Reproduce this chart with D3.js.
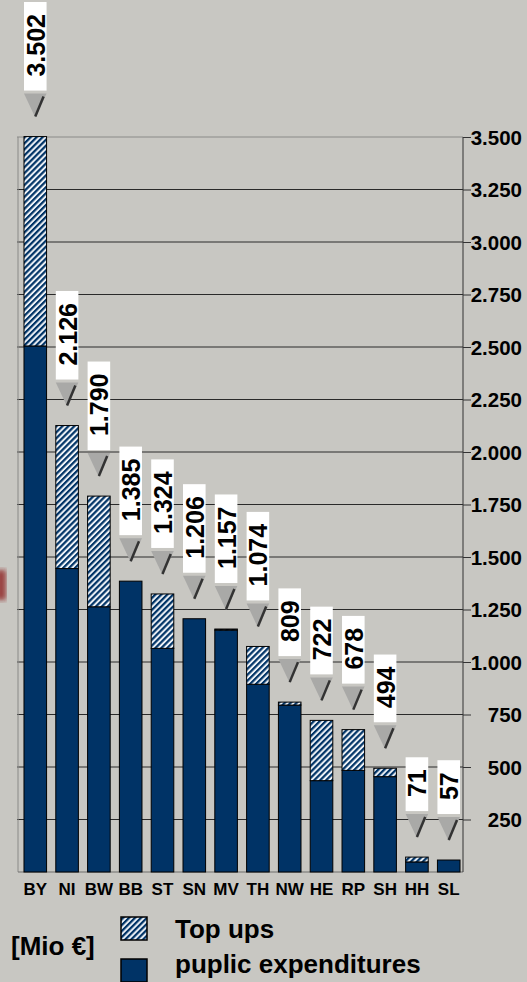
<!DOCTYPE html>
<html>
<head>
<meta charset="utf-8">
<script src="https://cdn.jsdelivr.net/npm/d3@7"></script>
<style>
  html, body { margin: 0; padding: 0; background: #c8c7c2; }
  svg { display: block; font-family: "Liberation Sans", Arial, sans-serif; font-weight: bold; }
</style>
</head>
<body>
<svg id="chart"></svg>
<script>
(function () {
  var width = 527; var height = 982

  var states = ['BY', 'NI', 'BW', 'BB', 'ST', 'SN', 'MV', 'TH', 'NW', 'HE', 'RP', 'SH', 'HH', 'SL']
  var totals = [3502, 2126, 1790, 1385, 1324, 1206, 1157, 1074, 809, 722, 678, 494, 71, 57]
  var publicExp = [2505, 1445, 1263, 1385, 1065, 1206, 1152, 894, 795, 435, 484, 454, 48, 57]
  var yTicks = [250, 500, 750, 1000, 1250, 1500, 1750, 2000, 2250, 2500, 2750, 3000, 3250, 3500]
  var legendLabels = ['Top ups', 'puplic expenditures']
  var unitLabel = '[Mio €]'

  var navy = '#003366'

  var de = d3.formatLocale({ decimal: ',', thousands: '.', grouping: [3], currency: ['', ' €'] })
  var fmt = de.format(',')

  var svg = d3.select('#chart')
    .attr('width', width)
    .attr('height', height)

  var defs = svg.append('defs')
  var pat = defs.append('pattern')
    .attr('id', 'hatch')
    .attr('patternUnits', 'userSpaceOnUse')
    .attr('width', 4.2)
    .attr('height', 4.2)
    .attr('patternTransform', 'rotate(45)')
  pat.append('rect').attr('width', 4.2).attr('height', 4.2).attr('fill', '#eef2f7')
  pat.append('rect').attr('width', 2.2).attr('height', 4.2).attr('fill', navy)

  defs.append('filter').attr('id', 'blur')
    .append('feGaussianBlur').attr('stdDeviation', 2.5)

  // faint background smudge on the left edge
  svg.append('rect')
    .attr('x', -4).attr('y', 570).attr('width', 10).attr('height', 30)
    .attr('fill', '#8a1414').attr('opacity', 0.75)
    .attr('filter', 'url(#blur)')

  var xScale = d3.scaleBand()
    .domain(states)
    .range([21, 463])
    .paddingInner(0.29)
    .paddingOuter(0.094)

  var yScale = d3.scaleLinear()
    .domain([0, 3500])
    .range([872, 137])

  // gridlines
  svg.append('g')
    .selectAll('line')
    .data(yTicks)
    .enter().append('line')
    .attr('x1', 17)
    .attr('x2', 463)
    .attr('y1', d => yScale(d))
    .attr('y2', d => yScale(d))
    .attr('stroke', d => d === 3500 ? '#8a8a88' : '#2a2a2a')
    .attr('stroke-width', 1)

  // left frame line and baseline
  svg.append('line')
    .attr('x1', 18).attr('x2', 18)
    .attr('y1', yScale(3500)).attr('y2', yScale(0))
    .attr('stroke', '#8a8a88')
  svg.append('line')
    .attr('x1', 18).attr('x2', 463)
    .attr('y1', yScale(0)).attr('y2', yScale(0))
    .attr('stroke', '#6e6e6c')

  // right axis
  var axis = svg.append('g')
    .attr('transform', 'translate(463,0)')
    .call(d3.axisRight(yScale).tickValues(yTicks).tickSize(8).tickFormat(fmt))
  axis.select('.domain').attr('stroke', '#333').attr('d', 'M0,' + yScale(3500) + 'V' + yScale(0))
  axis.selectAll('.tick line').attr('stroke', '#333')
  axis.selectAll('.tick text')
    .attr('x', 59)
    .attr('dy', '0.36em')
    .attr('text-anchor', 'end')
    .attr('font-size', 20.5)
    .attr('font-family', '"Liberation Sans", Arial, sans-serif')
    .attr('font-weight', 'bold')
    .attr('fill', '#000')

  var rows = states.map((s, i) => ({ state: s, total: totals[i], pub: publicExp[i] }))

  // public expenditures
  svg.append('g')
    .selectAll('rect')
    .data(rows)
    .enter().append('rect')
    .attr('x', d => xScale(d.state))
    .attr('width', xScale.bandwidth())
    .attr('y', d => yScale(d.pub))
    .attr('height', d => yScale(0) - yScale(d.pub))
    .attr('fill', navy)
    .attr('stroke', '#000')
    .attr('stroke-width', 1)

  // top ups
  svg.append('g')
    .selectAll('rect')
    .data(rows.filter(d => d.total > d.pub))
    .enter().append('rect')
    .attr('x', d => xScale(d.state))
    .attr('width', xScale.bandwidth())
    .attr('y', d => yScale(d.total))
    .attr('height', d => yScale(d.pub) - yScale(d.total))
    .attr('fill', 'url(#hatch)')
    .attr('stroke', '#000')
    .attr('stroke-width', 1)

  // callout labels
  var fs = 25
  var callouts = svg.append('g')
  rows.forEach(d => {
    var x0 = xScale(d.state)
    var bw = xScale.bandwidth()
    var cx = x0 + bw / 2
    var top = yScale(d.total)
    var triBottom = top - 19
    var triTop = top - 43
    var boxBottom = top - 46
    var g = callouts.append('g')

    g.append('polygon')
      .attr('points', [[x0, triTop], [x0 + bw, triTop], [cx, triBottom]].map(p => p.join(',')).join(' '))
      .attr('fill', '#a9a9a7')
    g.append('line')
      .attr('x1', x0 + bw - 3).attr('y1', triTop + 3)
      .attr('x2', cx).attr('y2', triBottom - 1)
      .attr('stroke', '#333').attr('stroke-width', 2.5)

    var box = g.append('rect').attr('fill', '#fff')
    var t = g.append('text')
      .attr('font-size', fs)
      .attr('text-anchor', 'middle')
      .attr('fill', '#000')
      .text(fmt(d.total))
    var len = t.node().getComputedTextLength()
    var h = len + 26
    var boxTop = boxBottom - h
    box.attr('x', x0).attr('y', boxTop).attr('width', bw).attr('height', h)
    t.attr('transform', 'translate(' + (cx + 0.38 * fs) + ',' + (boxTop + h / 2 - 1) + ') rotate(-90) scale(1,1.06)')
  })

  // category labels
  svg.append('g')
    .selectAll('text')
    .data(states)
    .enter().append('text')
    .attr('x', d => xScale(d) + xScale.bandwidth() / 2)
    .attr('y', 895)
    .attr('text-anchor', 'middle')
    .attr('font-size', 17)
    .attr('fill', '#000')
    .text(d => d)

  // legend
  svg.append('text')
    .attr('x', 11).attr('y', 955)
    .attr('font-size', 26)
    .text(unitLabel)

  var legendFills = ['url(#hatch)', navy]
  var legendY = [917, 959]
  var legendText = [938, 973]
  legendLabels.forEach((lab, i) => {
    svg.append('rect')
      .attr('x', 121).attr('y', legendY[i])
      .attr('width', 26).attr('height', 23)
      .attr('fill', legendFills[i])
      .attr('stroke', '#000').attr('stroke-width', 1.5)
    svg.append('text')
      .attr('x', 175).attr('y', legendText[i])
      .attr('font-size', 26)
      .text(lab)
  })
})()
</script>
</body>
</html>
